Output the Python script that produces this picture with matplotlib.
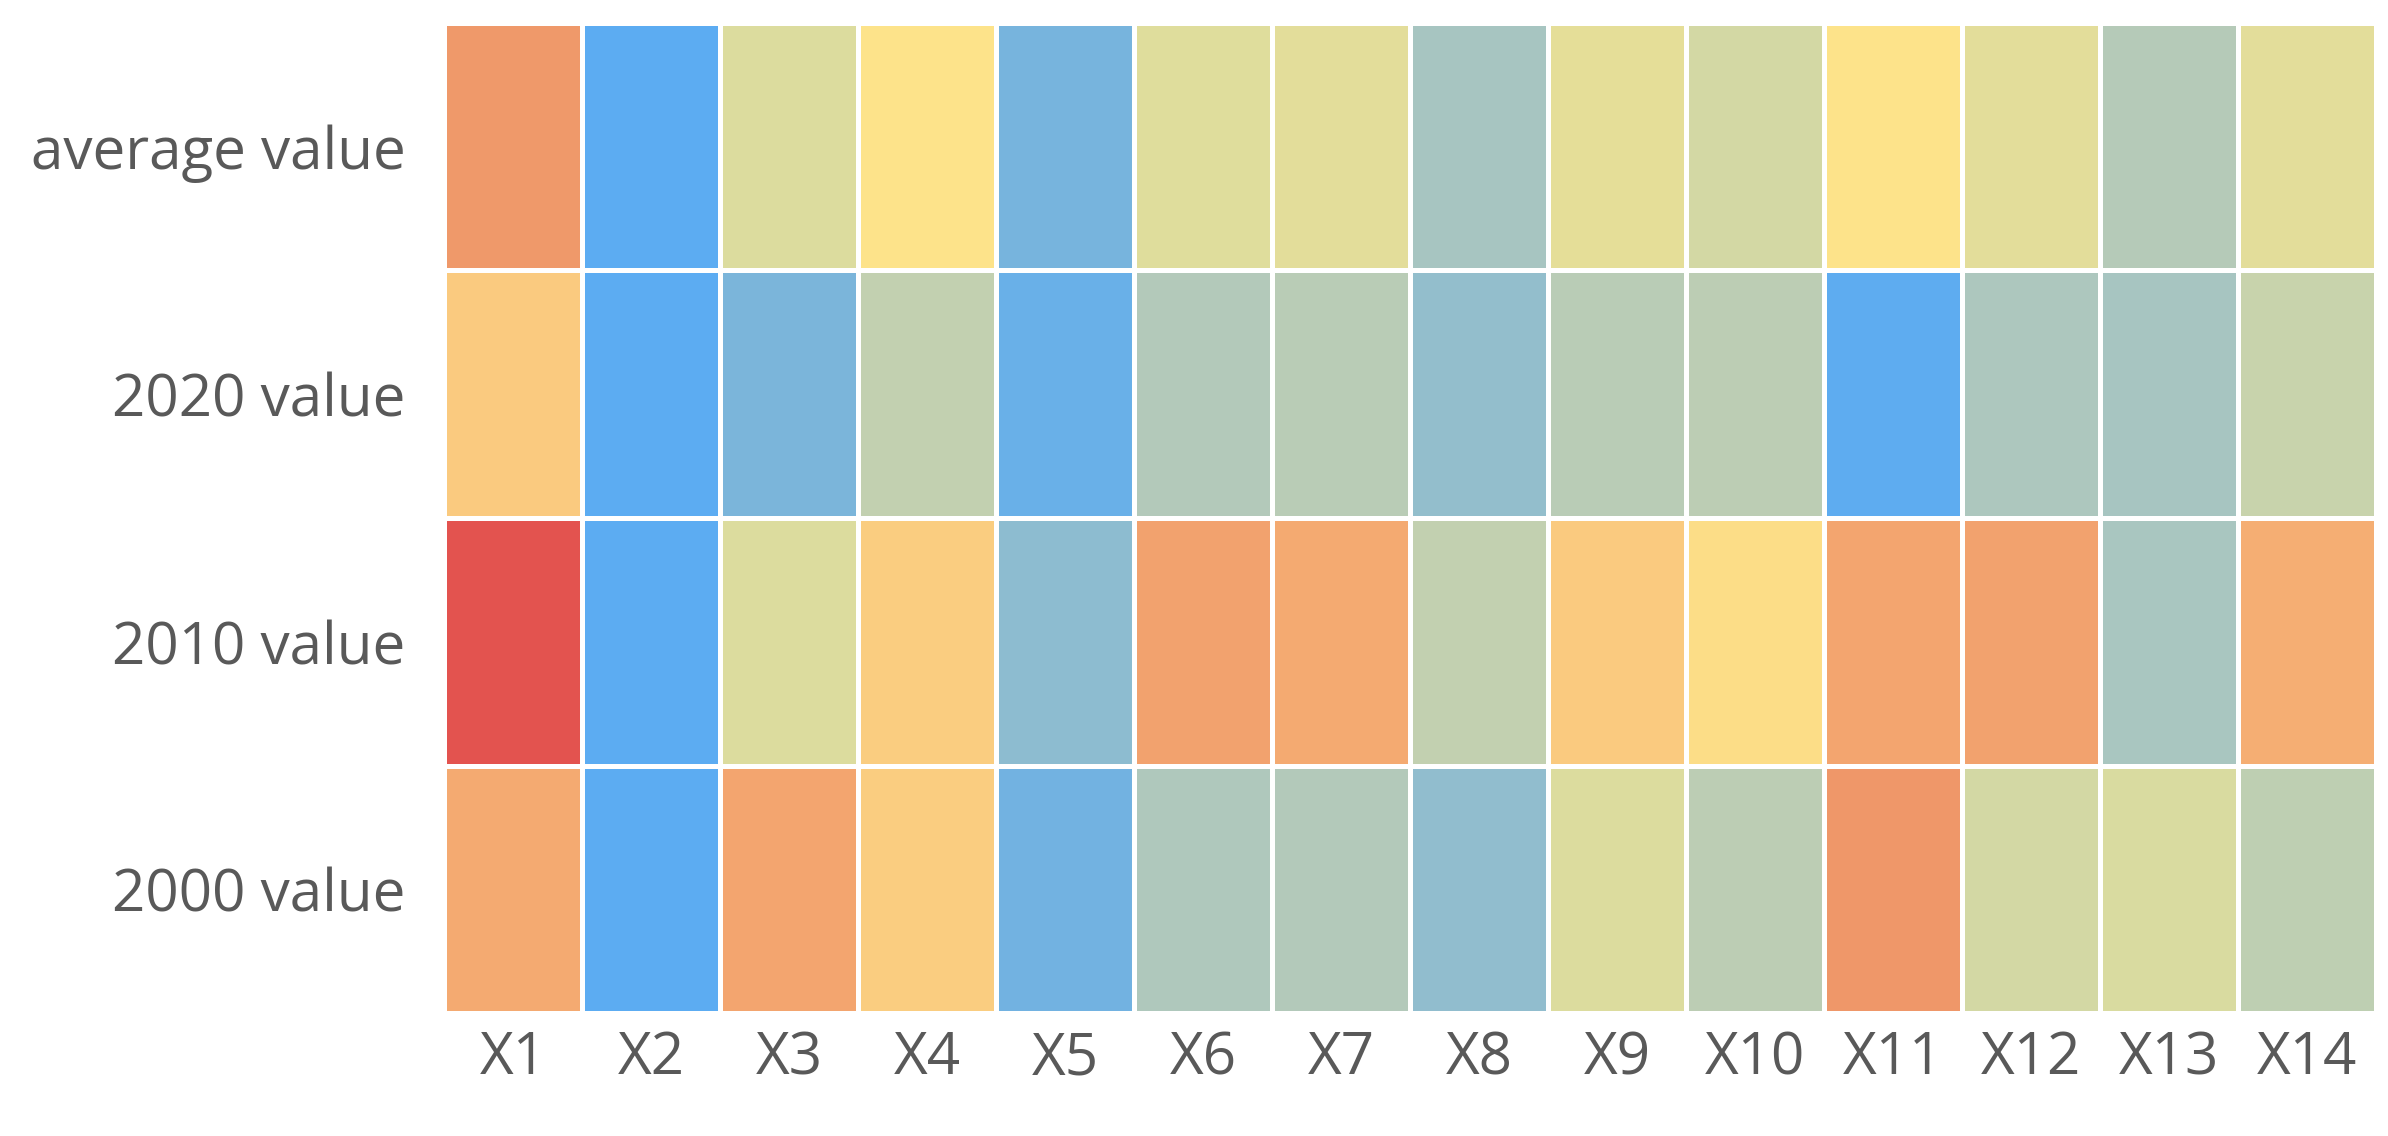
import numpy as np
import matplotlib
matplotlib.use("Agg")
import matplotlib.pyplot as plt
from matplotlib.colors import LinearSegmentedColormap

rows = ['average value', '2020 value', '2010 value', '2000 value']
cols = ['X%d' % i for i in range(1, 15)]

# values on a 0-100 scale
avg_vals = [85, 2, 45, 55, 12, 46, 47, 27, 48, 42, 55, 47, 32, 47]
v2020 = [63, 2, 13, 36, 7, 31, 33, 21, 33, 34, 3, 29, 27, 38]
v2010 = [100, 2, 45, 62, 19, 80, 76, 36, 63, 57, 78, 80, 28, 74]
v2000 = [76, 2, 78, 62, 10, 30, 31, 20, 45, 34, 86, 42, 44, 35]

data = np.array([avg_vals, v2020, v2010, v2000])

cmap = LinearSegmentedColormap.from_list('bgyor', [
    (0.0, '#56aaf6'),
    (0.12, '#78b4dc'),
    (0.30, '#b0c8bc'),
    (0.45, '#dcdc9e'),
    (0.55, '#fde38a'),
    (0.65, '#f9c47c'),
    (0.78, '#f3a56f'),
    (0.88, '#ee9468'),
    (1.0, '#e3534f'),
])

plt.rcParams['font.family'] = ['Open Sans', 'DejaVu Sans']

fig = plt.figure(figsize=(23.88, 11.36), dpi=100)
ax = fig.add_axes([0.186, 0.108, 0.809, 0.872])

ax.pcolormesh(data, cmap=cmap, vmin=0, vmax=100, edgecolors='white', linewidth=2.5)
ax.set_xlim(0, len(cols))
ax.set_ylim(len(rows), 0)

ax.set_xticks(np.arange(len(cols)) + 0.5)
ax.set_xticklabels(cols)
ax.set_yticks(np.arange(len(rows)) + 0.5)
ax.set_yticklabels(rows)
ax.tick_params(length=0, labelsize=42, colors='#595959')
ax.tick_params(axis='x', pad=12)
ax.tick_params(axis='y', pad=28)
for s in ax.spines.values():
    s.set_visible(False)

fig.savefig('out.png', dpi=100, facecolor='white')
